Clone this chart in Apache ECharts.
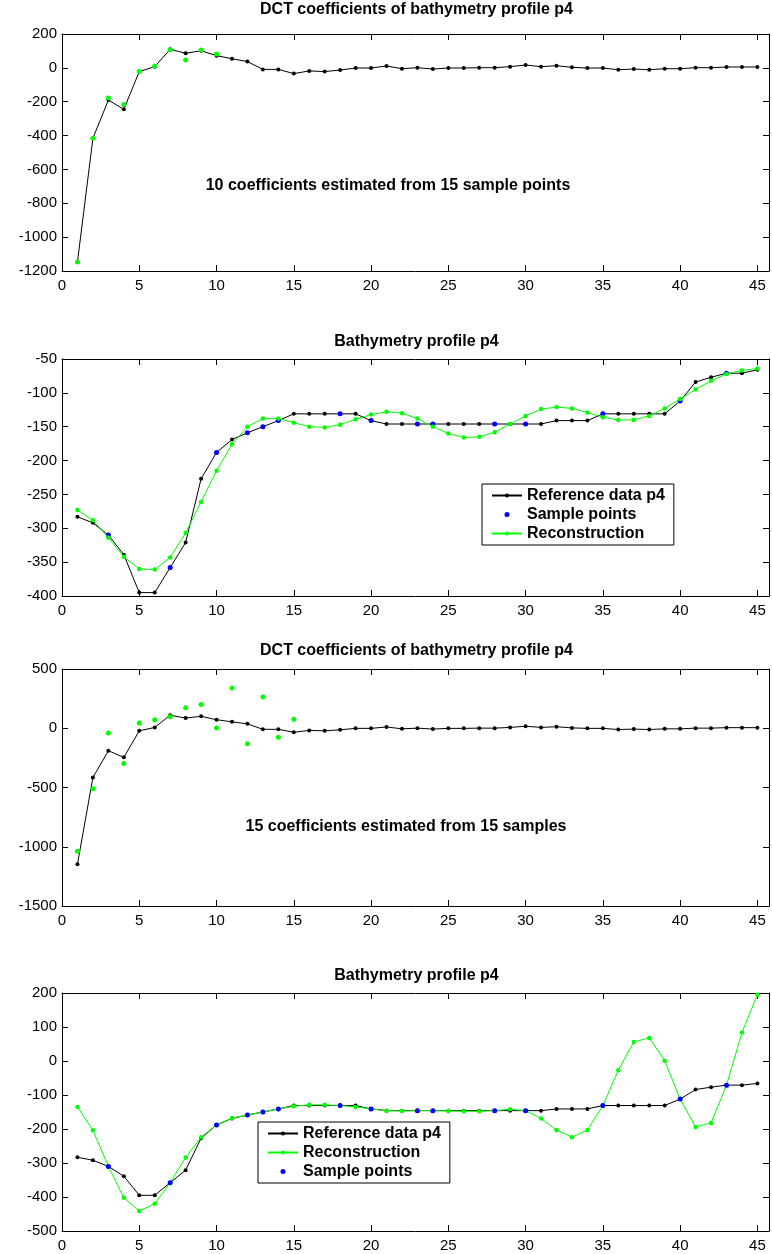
<!DOCTYPE html>
<html>
<head>
<meta charset="utf-8">
<title>DCT coefficients and bathymetry profile p4</title>
<script src="https://cdn.jsdelivr.net/npm/echarts@6/dist/echarts.min.js"></script>
<style>
  html, body { margin: 0; padding: 0; background: #fff; }
  #chart { width: 772px; height: 1254px; }
</style>
</head>
<body>
<div id="chart"></div>
<script>
// Profile positions (1..45)
const positions = [1,2,3,4,5,6,7,8,9,10,11,12,13,14,15,16,17,18,19,20,21,22,23,24,25,26,27,28,29,30,31,32,33,34,35,36,37,38,39,40,41,42,43,44,45];

// DCT coefficients of the full reference profile
const dctReference = [-1147,-416,-190,-245,-22,7,110,86,101,72,54,37,-9,-9,-34,-18,-22,-13,-1,-1,11,-5,1,-7,-1,-1,1,1,7,17,7,13,3,-1,-1,-11,-7,-11,-5,-5,1,1,5,5,5];

// Coefficients estimated from the 15 sample points
const dctEstimated10 = [-1147,-416,-178,-216,-22,11,107,46,105,82];
const dctEstimated15 = [-1038,-511,-41,-297,44,72,97,173,201,2,340,-131,263,-75,75];

// Bathymetry reference profile p4
const bathyReference = [-283,-292,-310,-339,-395,-395,-358,-321,-227,-188,-169,-159,-150,-141,-131,-131,-131,-131,-131,-141,-146,-146,-146,-146,-146,-146,-146,-146,-146,-146,-146,-141,-141,-141,-131,-131,-131,-131,-131,-112,-84,-77,-71,-71,-66];

// Positions where the profile was sampled
const sampleIndex = [3,7,10,12,13,14,18,20,23,24,28,30,35,40,43];

// Reconstructions from 10 and 15 coefficients
const recon10 = [-273,-288,-314,-342,-360,-361,-343,-307,-261,-215,-176,-150,-138,-138,-144,-150,-151,-147,-139,-132,-128,-130,-138,-150,-160,-166,-165,-158,-146,-134,-124,-121,-123,-129,-136,-140,-140,-134,-123,-109,-95,-82,-72,-67,-64];
const recon15 = [-135,-204,-310,-402,-441,-420,-358,-284,-224,-188,-168,-159,-150,-141,-133,-129,-129,-131,-135,-141,-146,-147,-146,-146,-147,-148,-148,-146,-142,-146,-169,-203,-224,-203,-131,-27,56,68,1,-112,-194,-182,-71,84,195];

// Axis ranges per panel: [min, max, step]
const yRanges = [[-1200, 200, 200], [-400, -50, 50], [-1500, 500, 500], [-500, 200, 100]];

const titles = ['DCT coefficients of bathymetry profile p4', 'Bathymetry profile p4',
                'DCT coefficients of bathymetry profile p4', 'Bathymetry profile p4'];

const FONT = '"Liberation Sans", Arial, Helvetica, sans-serif';
const X_MAX = 45.75;
const grids = [
  { left: 62, top: 34, width: 709, height: 237 },
  { left: 62, top: 359, width: 709, height: 237 },
  { left: 62, top: 669, width: 709, height: 237 },
  { left: 62, top: 993, width: 709, height: 238 }
];
const titleY = [10, 342, 651, 976];

const pairs = (xs, ys) => ys.map((v, k) => [xs[k], v]);
const samplePairs = sampleIndex.map(i => [i, bathyReference[i - 1]]);

const xAxes = [], yAxes = [];
grids.forEach((g, i) => {
  ['bottom', 'top'].forEach(pos => {
    xAxes.push({
      gridIndex: i, type: 'value', position: pos, min: 0, max: X_MAX, interval: 5,
      axisLine: { show: true, onZero: false, lineStyle: { color: '#000', width: 1 } },
      axisTick: { show: true, inside: true, length: 6, lineStyle: { color: '#000', width: 1 } },
      axisLabel: {
        show: pos === 'bottom', margin: 7, fontSize: 15, color: '#000', fontFamily: FONT,
        formatter: v => (Math.abs(v % 5) < 1e-9 ? String(v) : '')
      },
      splitLine: { show: false }
    });
  });
  const [lo, hi, step] = yRanges[i];
  ['left', 'right'].forEach(pos => {
    yAxes.push({
      gridIndex: i, type: 'value', position: pos, min: lo, max: hi, interval: step,
      axisLine: { show: true, onZero: false, lineStyle: { color: '#000', width: 1 } },
      axisTick: { show: true, inside: true, length: 6, lineStyle: { color: '#000', width: 1 } },
      axisLabel: { show: pos === 'left', margin: 5, fontSize: 15, color: '#000', fontFamily: FONT,
                   formatter: v => String(v) },
      splitLine: { show: false }
    });
  });
});

function lineSeries(name, panel, data, color, size, z) {
  return {
    type: 'line', name, xAxisIndex: panel * 2, yAxisIndex: panel * 2, data,
    symbol: 'circle', symbolSize: size, showSymbol: true, showAllSymbol: true,
    lineStyle: { color, width: 1 }, itemStyle: { color }, z,
    animation: false, silent: true
  };
}
function pointSeries(name, panel, data, color, size, z) {
  return {
    type: 'scatter', name, xAxisIndex: panel * 2, yAxisIndex: panel * 2, data,
    symbol: 'circle', symbolSize: size, itemStyle: { color, opacity: 1 }, z,
    animation: false, silent: true
  };
}

const series = [
  lineSeries('DCT reference', 0, pairs(positions, dctReference), '#000', 4, 2),
  pointSeries('DCT estimate (10)', 0, pairs(positions, dctEstimated10), '#00ff00', 5, 3),

  lineSeries('Reference data p4', 1, pairs(positions, bathyReference), '#000', 4, 2),
  pointSeries('Sample points', 1, samplePairs, '#0000ff', 5, 3),
  lineSeries('Reconstruction', 1, pairs(positions, recon10), '#00ff00', 4.5, 4),

  lineSeries('DCT reference ', 2, pairs(positions, dctReference), '#000', 4, 2),
  pointSeries('DCT estimate (15)', 2, pairs(positions, dctEstimated15), '#00ff00', 5, 3),

  lineSeries('Reference data p4', 3, pairs(positions, bathyReference), '#000', 4, 2),
  lineSeries('Reconstruction', 3, pairs(positions, recon15), '#00ff00', 4.5, 3),
  pointSeries('Sample points', 3, samplePairs, '#0000ff', 5, 4)
];

const legendBase = {
  orient: 'vertical', padding: [2, 9, 2, 9], itemWidth: 30, itemHeight: 5, itemGap: 0,
  backgroundColor: '#fff', borderColor: '#000', borderWidth: 1, borderRadius: 0,
  selectedMode: false,
  textStyle: { fontSize: 16, fontWeight: 'bold', color: '#000', fontFamily: FONT, lineHeight: 19 }
};

const option = {
  backgroundColor: '#fff',
  animation: false,
  grid: grids,
  xAxis: xAxes,
  yAxis: yAxes,
  title: titles.map((t, i) => ({
    text: t, left: 416.5, top: titleY[i], textAlign: 'center', textVerticalAlign: 'middle', padding: 0,
    textStyle: { fontSize: 16, fontWeight: 'bold', color: '#000', fontFamily: FONT }
  })),
  legend: [
    Object.assign({}, legendBase, { left: 482, top: 484,
      data: ['Reference data p4', { name: 'Sample points', icon: 'circle' }, 'Reconstruction'] }),
    Object.assign({}, legendBase, { left: 258, top: 1122,
      data: ['Reference data p4', 'Reconstruction', { name: 'Sample points', icon: 'circle' }] })
  ],
  graphic: [
    { type: 'text', x: 388, y: 186, silent: true,
      style: { text: '10 coefficients estimated from 15 sample points', font: 'bold 16px ' + FONT,
               fill: '#000', align: 'center', verticalAlign: 'middle' } },
    { type: 'text', x: 406, y: 827, silent: true,
      style: { text: '15 coefficients estimated from 15 samples', font: 'bold 16px ' + FONT,
               fill: '#000', align: 'center', verticalAlign: 'middle' } }
  ],
  series
};

const chart = echarts.init(document.getElementById('chart'), null, { renderer: 'canvas' });
chart.setOption(option);
</script>
</body>
</html>
